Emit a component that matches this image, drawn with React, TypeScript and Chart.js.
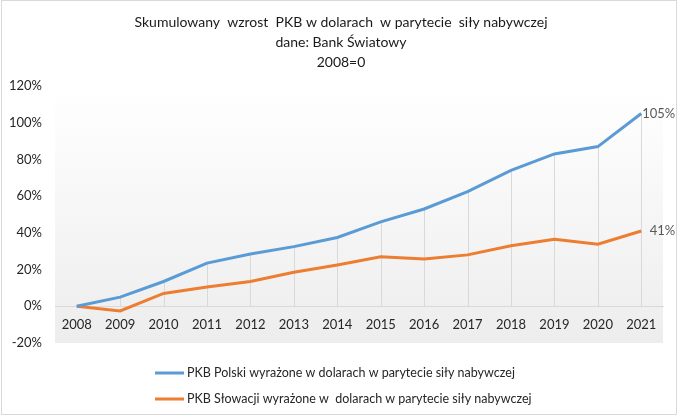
import React, { useEffect, useRef } from "react";
import { Chart, registerables } from "chart.js";

Chart.register(...registerables);

const years = ["2008","2009","2010","2011","2012","2013","2014","2015","2016","2017","2018","2019","2020","2021"];
const poland = [0, 5, 13.5, 23.5, 28.5, 32.5, 37.5, 46, 53, 62.5, 74, 83, 87, 105];
const slovakia = [0, -2.5, 7, 10.5, 13.5, 18.5, 22.5, 27, 25.8, 28, 33, 36.5, 33.8, 41];
const polandLabel = "PKB Polski wyrażone w dolarach w parytecie siły nabywczej";
const slovakiaLabel = "PKB Słowacji wyrażone w  dolarach w parytecie siły nabywczej";
const titleLines = ["Skumulowany  wzrost  PKB w dolarach  w parytecie  siły nabywczej", "dane: Bank Światowy", "2008=0"];
const yMin = -20;
const yMax = 120;
const yStep = 20;

const FONT = "Lato, 'Open Sans', sans-serif";

const customPlugin = {
  id: "custom",
  beforeDraw(chart: any) {
    const { ctx, chartArea: a } = chart;
    ctx.save();
    ctx.fillStyle = "#ffffff";
    ctx.fillRect(0, 0, chart.width, chart.height);
    const g = ctx.createLinearGradient(0, a.top, 0, a.bottom);
    g.addColorStop(0, "#ffffff");
    g.addColorStop(1, "#ededed");
    ctx.fillStyle = g;
    ctx.fillRect(a.left, a.top, a.right - a.left, a.bottom - a.top);
    ctx.strokeStyle = "#d9d9d9";
    ctx.lineWidth = 1;
    ctx.strokeRect(1.5, 0.5, 675, 414);
    // title
    ctx.fillStyle = "#1a1a1a";
    ctx.font = "14px " + FONT;
    ctx.textAlign = "center";
    ctx.textBaseline = "middle";
    titleLines.forEach((t, i) => ctx.fillText(t, 341, 22 + i * 20));
    ctx.restore();
  },
  beforeDatasetsDraw(chart: any) {
    const { ctx } = chart;
    const x = chart.scales.x;
    const y = chart.scales.y;
    ctx.save();
    ctx.strokeStyle = "#d9d9d9";
    ctx.lineWidth = 1;
    years.forEach((_, i) => {
      const top = Math.max(poland[i], slovakia[i]);
      const px = Math.round(x.getPixelForValue(i)) + 0.5;
      ctx.beginPath();
      ctx.moveTo(px, y.getPixelForValue(top));
      ctx.lineTo(px, y.getPixelForValue(0));
      ctx.stroke();
    });
    ctx.restore();
  },
  afterDraw(chart: any) {
    const { ctx } = chart;
    const x = chart.scales.x;
    const y = chart.scales.y;
    const last = years.length - 1;
    ctx.save();
    ctx.font = "13px " + FONT;
    ctx.fillStyle = "#595959";
    ctx.textAlign = "right";
    ctx.textBaseline = "middle";
    const lx = x.getPixelForValue(last) + 34;
    ctx.fillText(Math.round(poland[last]) + "%", lx, y.getPixelForValue(poland[last]));
    ctx.fillText(Math.round(slovakia[last]) + "%", lx, y.getPixelForValue(slovakia[last]));
    // legend
    const items = [
      { label: polandLabel, color: "#5b9bd5" },
      { label: slovakiaLabel, color: "#ed7d31" },
    ];
    ctx.textAlign = "left";
    ctx.font = "12.5px " + FONT;
    items.forEach((it, i) => {
      const yy = 373 + i * 26;
      ctx.strokeStyle = it.color;
      ctx.lineWidth = 3;
      ctx.beginPath();
      ctx.moveTo(155, yy);
      ctx.lineTo(184, yy);
      ctx.stroke();
      ctx.fillStyle = "#262626";
      ctx.fillText(it.label, 187, yy);
    });
    ctx.restore();
  },
};

export default function App() {
  const ref = useRef<HTMLCanvasElement>(null);
  useEffect(() => {
    const chart = new Chart(ref.current as HTMLCanvasElement, {
      type: "line",
      data: {
        labels: years,
        datasets: [
          { label: polandLabel, data: poland, borderColor: "#5b9bd5", backgroundColor: "#5b9bd5", borderWidth: 3, pointRadius: 0, tension: 0 },
          { label: slovakiaLabel, data: slovakia, borderColor: "#ed7d31", backgroundColor: "#ed7d31", borderWidth: 3, pointRadius: 0, tension: 0 },
        ],
      },
      options: {
        animation: false,
        responsive: false,
        layout: { padding: { left: 0, right: 17, top: 86, bottom: 76 } },
        plugins: { legend: { display: false }, title: { display: false }, tooltip: { enabled: false } },
        scales: {
          x: {
            position: { y: 0 } as any,
            offset: true,
            grid: { display: false, drawTicks: false },
            border: { display: true, color: "#d9d9d9", width: 1 },
            ticks: { color: "#262626", font: { family: FONT, size: 13 }, padding: 11, maxRotation: 0, autoSkip: false },
          },
          y: {
            min: yMin,
            max: yMax,
            afterFit: (s: any) => { s.width = 55; },
            grid: { display: false, drawTicks: false },
            border: { display: false },
            ticks: { stepSize: yStep, color: "#262626", font: { family: FONT, size: 13 }, padding: 13, callback: (v: any) => v + "%" },
          },
        },
      },
      plugins: [customPlugin],
    });
    return () => chart.destroy();
  }, []);
  return (
    <div style={{ position: "fixed", left: 0, top: 0, width: 680, height: 419, background: "#fff" }}>
      <canvas ref={ref} width={680} height={419} />
    </div>
  );
}
